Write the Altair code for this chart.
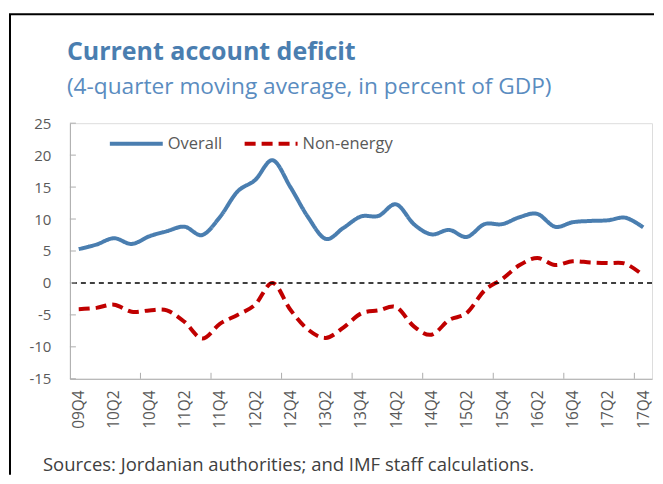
import altair as alt
import pandas as pd

quarters = ["09Q4", "10Q1", "10Q2", "10Q3", "10Q4", "11Q1", "11Q2", "11Q3", "11Q4",
            "12Q1", "12Q2", "12Q3", "12Q4", "13Q1", "13Q2", "13Q3", "13Q4",
            "14Q1", "14Q2", "14Q3", "14Q4", "15Q1", "15Q2", "15Q3", "15Q4",
            "16Q1", "16Q2", "16Q3", "16Q4", "17Q1", "17Q2", "17Q3", "17Q4"]
overall = [5.3, 6.0, 7.0, 6.1, 7.3, 8.1, 8.8, 7.5, 10.3, 14.3, 16.1, 19.2, 15.0,
           10.3, 6.9, 8.6, 10.4, 10.5, 12.3, 9.2, 7.6, 8.3, 7.2, 9.2, 9.2,
           10.3, 10.8, 8.8, 9.5, 9.7, 9.8, 10.2, 8.7]
non_energy = [-4.1, -3.9, -3.4, -4.5, -4.3, -4.3, -6.1, -8.7, -6.4, -5.0, -3.4, 0.0, -4.2,
              -7.3, -8.6, -7.0, -4.8, -4.3, -3.8, -6.8, -8.1, -5.8, -4.7, -1.2, 0.6,
              2.8, 3.9, 2.8, 3.4, 3.2, 3.1, 3.0, 1.2]
series_names = ["Overall", "Non-energy"]
y_ticks = [-15, -10, -5, 0, 5, 10, 15, 20, 25]
x_label_index = list(range(0, 33, 2))
x_tick_marks = [3.5, 7.5, 11.5, 15.5, 19.5, 23.5, 27.5, 31.5]

title_text = "Current account deficit"
subtitle_text = "(4-quarter moving average, in percent of GDP)"
source_text = "Sources: Jordanian authorities; and IMF staff calculations."

rows = []
for i, q in enumerate(quarters):
    rows.append({"i": i, "series": "Overall", "value": overall[i]})
    rows.append({"i": i, "series": "Non-energy", "value": non_energy[i]})
df = pd.DataFrame(rows)

W, H = 583, 256
FONT = "Open Sans"
LABEL_COLOR = "#595959"
AXIS_COLOR = "#ADADAD"
TITLE_COLOR = "#4A7EB0"

x_scale = alt.Scale(domain=[-0.5, 32.5], nice=False, zero=False)
y_scale = alt.Scale(domain=[-15, 25], nice=False)
label_expr = "[" + ",".join(f"'{q}'" for q in quarters) + "][datum.value]"

x_axis = alt.Axis(
    values=x_label_index, labelExpr=label_expr, labelAngle=270, ticks=False,
    grid=False, domainColor=AXIS_COLOR, labelFontSize=15.5, labelColor=LABEL_COLOR,
    labelPadding=11, title=None, labelFont=FONT)
y_axis = alt.Axis(
    values=y_ticks, labelExpr="'' + datum.value", ticks=False, grid=False,
    domainColor=AXIS_COLOR, labelFontSize=15, labelColor=LABEL_COLOR,
    labelPadding=19, title=None, labelFont=FONT)

legend = alt.Legend(
    title=None, orient="none", legendX=38, legendY=-8, direction="horizontal",
    symbolType="stroke", symbolSize=2809, symbolStrokeWidth=4,
    labelFontSize=16.5, labelColor=LABEL_COLOR, labelFont=FONT,
    columnPadding=14, labelOffset=3,
)

lines = alt.Chart(df).mark_line(strokeWidth=4, interpolate="cardinal").encode(
    x=alt.X("i:Q", scale=x_scale, axis=x_axis),
    y=alt.Y("value:Q", scale=y_scale, axis=y_axis),
    color=alt.Color("series:N", scale=alt.Scale(domain=series_names,
                                                range=["#4A7EB0", "#C00000"]), legend=legend),
    strokeDash=alt.StrokeDash("series:N", scale=alt.Scale(domain=series_names,
                                                         range=[[1, 0], [11, 6]]), legend=legend),
    order=alt.Order("i:Q"),
)

zero = alt.Chart(pd.DataFrame({"value": [0]})).mark_rule(
    color="black", strokeWidth=1.4, strokeDash=[5, 4]).encode(
    y=alt.Y("value:Q", scale=y_scale, axis=y_axis))

ytick_rules = alt.Chart(pd.DataFrame({"value": y_ticks})).mark_rule(
    color=AXIS_COLOR, strokeWidth=1).encode(
    y=alt.Y("value:Q", scale=y_scale, axis=y_axis), x=alt.value(0), x2=alt.value(6))

xtick_rules = alt.Chart(pd.DataFrame({"i": x_tick_marks})).mark_rule(
    color=AXIS_COLOR, strokeWidth=1).encode(
    x=alt.X("i:Q", scale=x_scale, axis=x_axis), y=alt.value(H - 6), y2=alt.value(H))

one = pd.DataFrame({"k": [0]})
frame_left = alt.Chart(one).mark_rule(color="black", strokeWidth=2).encode(
    x=alt.value(-60), y=alt.value(-109), y2=alt.value(352))
frame_top = alt.Chart(one).mark_rule(color="black", strokeWidth=2).encode(
    x=alt.value(-61), x2=alt.value(585), y=alt.value(-109))

title = alt.Chart(pd.DataFrame({"t": [title_text]})).mark_text(
    align="left", baseline="alphabetic", fontSize=25, fontWeight="bold",
    font=FONT, color=TITLE_COLOR).encode(
    text="t:N", x=alt.value(-3), y=alt.value(-63))
subtitle = alt.Chart(pd.DataFrame({"t": [subtitle_text]})).mark_text(
    align="left", baseline="alphabetic", fontSize=22.7, font=FONT,
    color="#5A8CC0").encode(
    text="t:N", x=alt.value(-3), y=alt.value(-29))
source = alt.Chart(pd.DataFrame({"t": [source_text]})).mark_text(
    align="left", baseline="alphabetic", fontSize=18.5, font=FONT,
    color="#404040").encode(
    text="t:N", x=alt.value(-27), y=alt.value(348))

chart = alt.layer(
    lines, zero, ytick_rules, xtick_rules, frame_left, frame_top, title, subtitle, source
).properties(
    width=W, height=H,
    padding={"left": 0, "top": 5, "right": 0, "bottom": 0},
).configure_view(stroke="#C8C8C8", strokeWidth=1).configure(font=FONT)

chart.save("out.html", embed_options={"renderer": "svg", "actions": False})
